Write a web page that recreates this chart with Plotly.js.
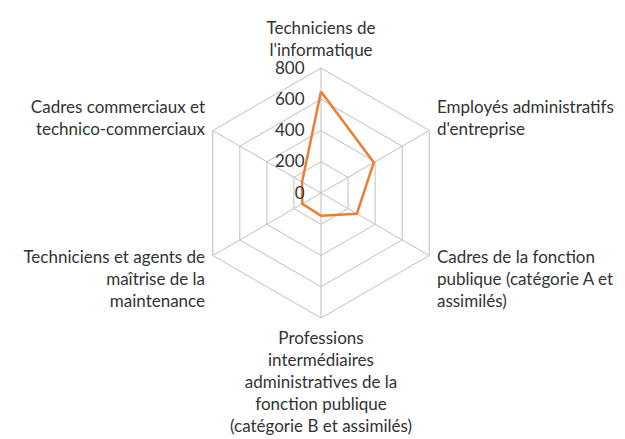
<html lang="fr">
  <head>
    <meta charset="UTF-8" />
    <script src="https://cdn.plot.ly/plotly-3.0.1.min.js"></script>
    <title>Radar</title>
  </head>
  <body style="margin:0">
    <div id="radarPlot" style="width: 625px; height: 439px;"></div>
    <script>
      const categories = [
        "Techniciens de<br>l'informatique",
        "Employés administratifs<br>d'entreprise",
        "Cadres de la fonction<br>publique (catégorie A et<br>assimilés)",
        "Professions<br>intermédiaires<br>administratives de la<br>fonction publique<br>(catégorie B et assimilés)",
        "Techniciens et agents de<br>maîtrise de la<br>maintenance",
        "Cadres commerciaux et<br>technico-commerciaux"
      ];
      const values = [650, 390, 265, 145, 138, 140];
      const radialTicks = [0, 200, 400, 600, 800];

      // close the polygon
      const trace = {
        type: 'scatterpolar',
        r: values.concat(values[0]),
        theta: categories.concat(categories[0]),
        mode: 'lines',
        line: { color: '#ed7d31', width: 2.5 },
        hoverinfo: 'r+theta'
      };

      const layout = {
        width: 625,
        height: 439,
        margin: { l: 0, r: 0, t: 0, b: 0 },
        showlegend: false,
        paper_bgcolor: 'white',
        font: { family: 'Lato, "Open Sans", sans-serif', size: 17, color: '#333333' },
        polar: {
          domain: { x: [0.3136, 0.7136], y: [0.2756, 0.845] },
          gridshape: 'linear',
          bgcolor: 'white',
          angularaxis: {
            direction: 'clockwise',
            rotation: 90,
            gridcolor: '#bfbfbf',
            linecolor: '#bfbfbf',
            // invisible ticks, only to push the labels a bit further out
            ticks: 'outside',
            ticklen: 5,
            tickcolor: 'rgba(0,0,0,0)',
            tickfont: { size: 17, color: '#333333' }
          },
          radialaxis: {
            range: [0, 800],
            tickvals: radialTicks,
            angle: 90,
            tickangle: 90,
            side: 'counterclockwise',
            showline: false,
            ticks: 'outside',
            ticklen: 10,
            tickcolor: 'rgba(0,0,0,0)',
            gridcolor: '#bfbfbf',
            tickfont: { size: 17, color: '#333333' }
          }
        }
      };

      Plotly.newPlot('radarPlot', [trace], layout, { displayModeBar: false });
    </script>
  </body>
</html>
